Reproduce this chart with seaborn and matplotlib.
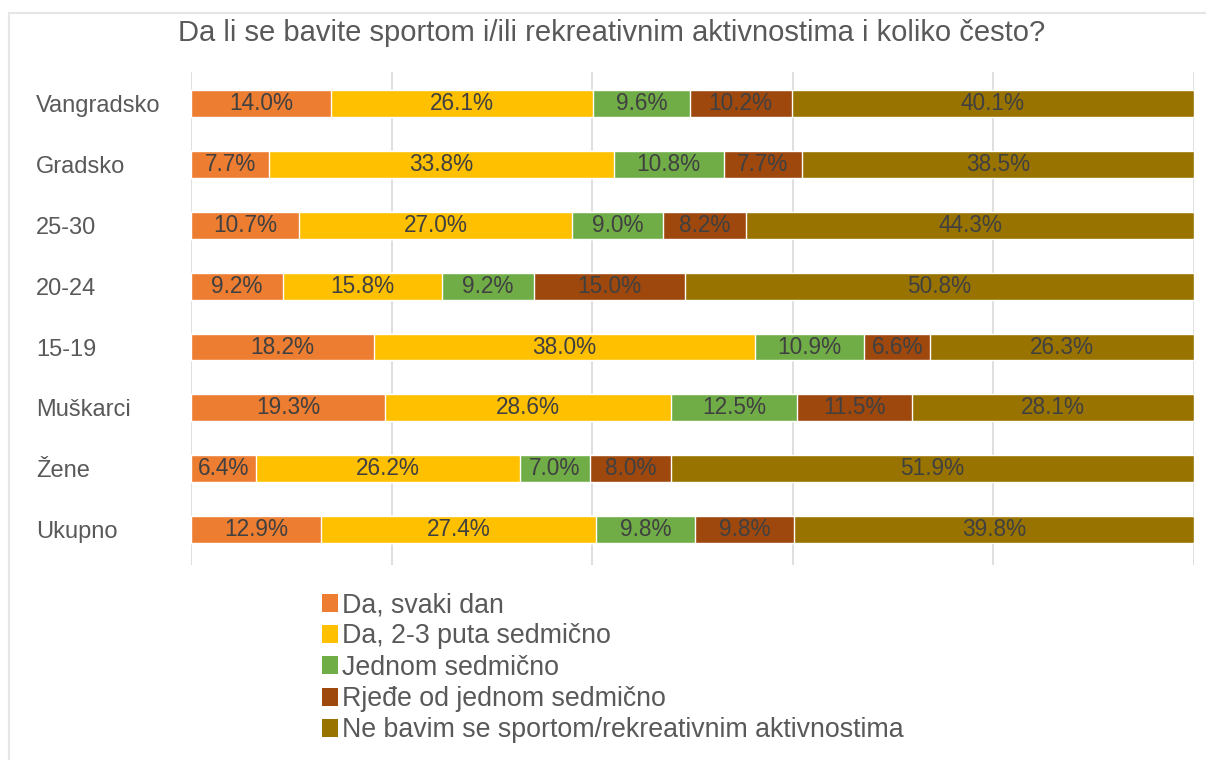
import numpy as np
import pandas as pd
import matplotlib
matplotlib.use("Agg")
import matplotlib.pyplot as plt
import seaborn as sns
from matplotlib.patches import Patch

# Data (percent, as labelled)
groups = ["Vangradsko", "Gradsko", "25-30", "20-24", "15-19", "Muškarci", "Žene", "Ukupno"]
answers = [
    "Da, svaki dan",
    "Da, 2-3 puta sedmično",
    "Jednom sedmično",
    "Rjeđe od jednom sedmično",
    "Ne bavim se sportom/rekreativnim aktivnostima",
]
svaki_dan = [14.0, 7.7, 10.7, 9.2, 18.2, 19.3, 6.4, 12.9]
dva_tri_puta = [26.1, 33.8, 27.0, 15.8, 38.0, 28.6, 26.2, 27.4]
jednom = [9.6, 10.8, 9.0, 9.2, 10.9, 12.5, 7.0, 9.8]
rjedje = [10.2, 7.7, 8.2, 15.0, 6.6, 11.5, 8.0, 9.8]
ne_bavim = [40.1, 38.5, 44.3, 50.8, 26.3, 28.1, 51.9, 39.8]
colors = ["#ED7D31", "#FFC000", "#70AD47", "#9E480E", "#997300"]

title = "Da li se bavite sportom i/ili rekreativnim aktivnostima i koliko često?"

sns.set_theme(style="white")
plt.rcParams["font.family"] = ["Liberation Sans", "DejaVu Sans"]

vals = np.array([svaki_dan, dva_tri_puta, jednom, rjedje, ne_bavim])  # (5, 8)
share = vals / vals.sum(axis=0) * 100   # 100% stacked like Excel
cum = share.cumsum(axis=0)

fig = plt.figure(figsize=(12.06, 7.60), dpi=100)
ax = fig.add_axes([0.1584, 0.257, 0.8317, 0.648])

# draw from the full stack down so every segment shows on top of the next one
for k in range(len(answers) - 1, -1, -1):
    df = pd.DataFrame({"group": groups, "end": cum[k]})
    sns.barplot(data=df, x="end", y="group", color=colors[k], orient="h",
                width=0.44, saturation=1, ax=ax, zorder=2)

# segment labels
for k in range(len(answers)):
    start = cum[k] - share[k]
    for i in range(len(groups)):
        ax.text(start[i] + share[k][i] / 2, i, f"{vals[k][i]:.1f}%",
                ha="center", va="center", fontsize=16.3, color="#404040", zorder=3)

ax.set_xlim(0, 100)
ax.set_ylim(7.58, -0.52)
ax.set_xticks([0, 20, 40, 60, 80, 100])
ax.set_xticklabels([])
ax.xaxis.grid(True, color="#D9D9D9", linewidth=1.2, zorder=0)
ax.set_axisbelow(True)
ax.set_xlabel("")
ax.set_ylabel("")
ax.tick_params(axis="y", length=0, pad=(191 - 36) * 0.72, labelsize=17, labelcolor="#595959")
for lab in ax.get_yticklabels():
    lab.set_horizontalalignment("left")
ax.tick_params(axis="x", length=0)
for s in ax.spines.values():
    s.set_visible(False)

fig.text(0.507, 0.956, title, ha="center", va="center", fontsize=21, color="#595959")

handles = [Patch(facecolor=c, edgecolor="none") for c in colors]
leg = fig.legend(handles, answers, loc="upper left", bbox_to_anchor=(0.267, 0.221),
                 frameon=False, fontsize=19.3, labelcolor="#595959",
                 handlelength=0.6, handleheight=0.65, handletextpad=0.15,
                 labelspacing=0.2, borderaxespad=0, borderpad=0)

# light chart frame
fig.add_artist(plt.Rectangle((9 / 1206, -0.1), 1.2, 1 - 13 / 760 + 0.1,
                             transform=fig.transFigure, fill=False,
                             edgecolor="#E6E6E6", linewidth=1.5))

fig.savefig("out.png", dpi=100)
